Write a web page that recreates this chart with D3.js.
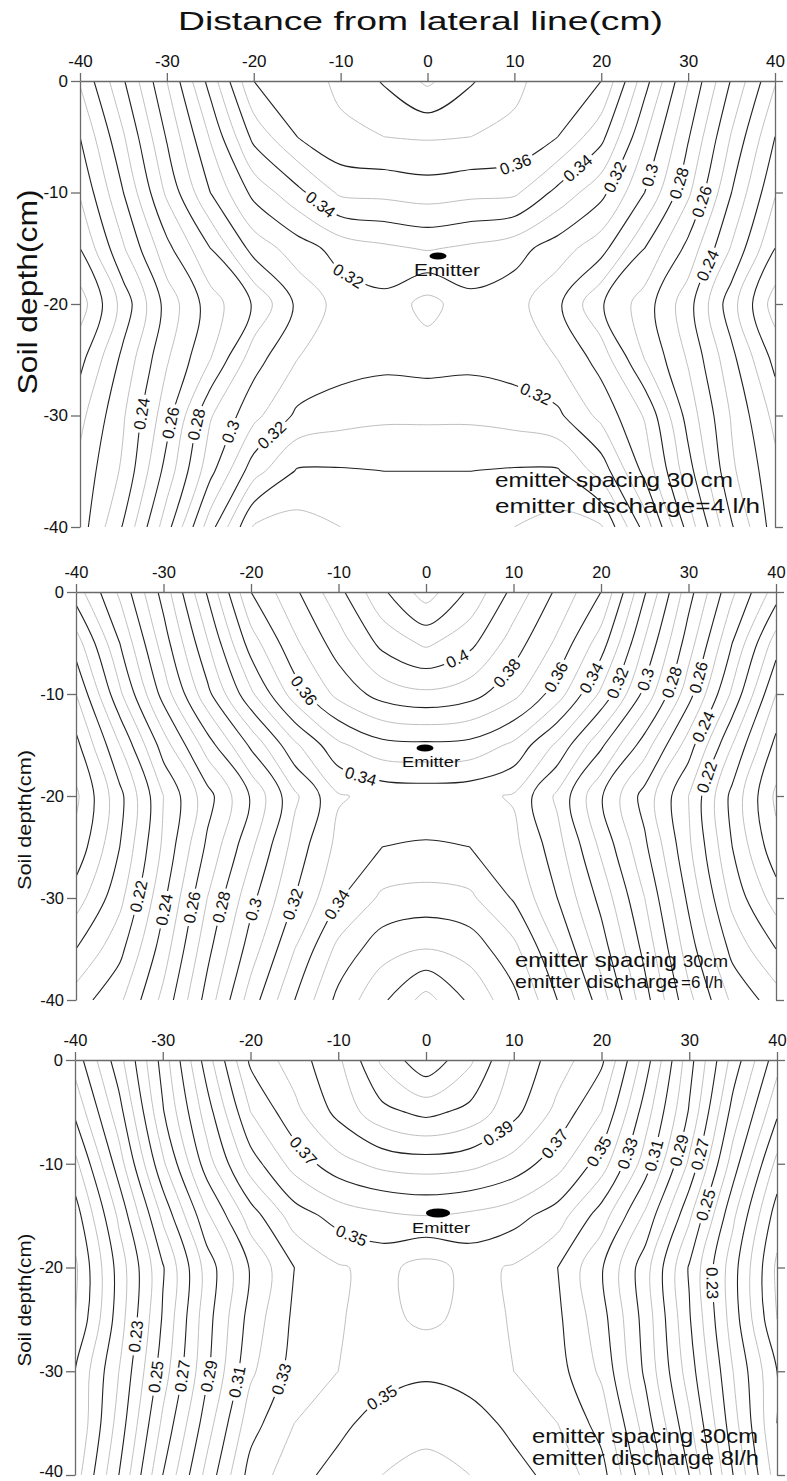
<!DOCTYPE html>
<html>
<head>
<meta charset="utf-8">
<script src="https://cdn.jsdelivr.net/npm/d3@7"></script>
<style>
body { margin: 0; background: #fff; }
svg text { font-family: "Liberation Sans", Arial, sans-serif; fill: #111; }
</style>
</head>
<body>
<svg id="chart" width="787" height="1481"></svg>
<script>
// grid nodes (cm)
const xs = [-40, -35, -30, -25, -20, -15, -10, -5, 0, 5, 10, 15, 20, 25, 30, 35, 40];
const depths = [0, -5, -10, -15, -20, -25, -30, -35, -40];
const xTicks = [-40, -30, -20, -10, 0, 10, 20, 30, 40];
const yTicks = [0, -10, -20, -30, -40];
const levels = [0.15, 0.16, 0.17, 0.18, 0.19, 0.20, 0.21, 0.22, 0.23, 0.24, 0.25, 0.26, 0.27, 0.28, 0.29,
  0.30, 0.31, 0.32, 0.33, 0.34, 0.35, 0.36, 0.37, 0.38, 0.39, 0.40, 0.41, 0.42, 0.43, 0.44, 0.45];

// soil moisture, emitter discharge 4 l/h (rows = depths, cols = xs)
const moisture4 = [
  [.231, .259, .290, .324, .360, .365, .372, .381, .392, .381, .372, .365, .360, .324, .290, .259, .231],
  [.220, .249, .281, .311, .343, .360, .368, .370, .371, .370, .368, .360, .343, .311, .281, .249, .220],
  [.211, .240, .272, .300, .323, .337, .352, .353, .355, .353, .352, .337, .323, .300, .272, .240, .211],
  [.200, .229, .257, .280, .304, .315, .324, .328, .331, .328, .324, .315, .304, .280, .257, .229, .200],
  [.185, .214, .244, .265, .281, .302, .314, .317, .306, .317, .314, .302, .281, .265, .244, .214, .185],
  [.197, .223, .249, .270, .296, .310, .315, .317, .316, .317, .315, .310, .296, .270, .249, .223, .197],
  [.207, .229, .256, .289, .307, .322, .326, .328, .328, .328, .326, .322, .307, .289, .256, .229, .207],
  [.213, .232, .264, .297, .326, .341, .341, .340, .340, .340, .341, .341, .326, .297, .264, .232, .213],
  [.215, .241, .276, .316, .351, .354, .350, .346, .345, .346, .350, .354, .351, .316, .276, .241, .215]
];
// emitter discharge 6 l/h
const moisture6 = [
  [.225, .252, .284, .321, .360, .378, .397, .418, .435, .418, .397, .378, .360, .321, .284, .252, .225],
  [.205, .240, .275, .309, .345, .368, .385, .403, .412, .403, .385, .368, .345, .309, .275, .240, .205],
  [.190, .228, .264, .297, .328, .355, .373, .384, .388, .384, .373, .355, .328, .297, .264, .228, .190],
  [.177, .210, .245, .275, .302, .328, .348, .357, .358, .357, .348, .328, .302, .275, .245, .210, .177],
  [.168, .197, .230, .256, .281, .308, .329, .333, .334, .333, .329, .308, .281, .256, .230, .197, .168],
  [.173, .200, .232, .262, .288, .314, .333, .340, .341, .340, .333, .314, .288, .262, .232, .200, .173],
  [.185, .207, .238, .270, .297, .320, .339, .352, .354, .352, .339, .320, .297, .270, .238, .207, .185],
  [.200, .217, .245, .277, .305, .330, .353, .366, .370, .366, .353, .330, .305, .277, .245, .217, .200],
  [.215, .228, .253, .284, .315, .340, .363, .378, .394, .378, .363, .340, .315, .284, .253, .228, .215]
];
// emitter discharge 8 l/h
const moisture8 = [
  [.224, .256, .294, .335, .372, .385, .398, .422, .438, .422, .398, .385, .372, .335, .294, .256, .224],
  [.212, .246, .289, .325, .360, .377, .393, .407, .413, .407, .393, .377, .360, .325, .289, .246, .212],
  [.197, .235, .278, .315, .345, .364, .376, .383, .385, .383, .376, .364, .345, .315, .278, .235, .197],
  [.185, .222, .262, .298, .325, .345, .354, .358, .360, .358, .354, .345, .325, .298, .262, .222, .185],
  [.178, .214, .249, .284, .311, .330, .339, .343, .336, .343, .339, .330, .311, .284, .249, .214, .178],
  [.180, .215, .251, .286, .314, .332, .3395, .3425, .338, .3425, .3395, .332, .314, .286, .251, .215, .180],
  [.190, .220, .255, .288, .318, .334, .340, .345, .348, .345, .340, .334, .318, .288, .255, .220, .190],
  [.190, .224, .262, .295, .326, .340, .347, .355, .358, .355, .347, .340, .326, .295, .262, .224, .190],
  [.195, .230, .270, .303, .334, .346, .354, .360, .362, .360, .354, .346, .334, .303, .270, .230, .195]
];

// contour labels: [level, x, depth]
const labels4 = [[0.36, 10.3, -7.7], [0.34, 17.9, -8.3], [0.32, 22.2, -8.9], [0.30, 26.2, -8.6], [0.28, 29.2, -9.2],
  [0.26, 31.7, -10.8], [0.24, 32.1, -16.5], [0.34, -12.3, -11.1], [0.32, -9.1, -17.4], [0.24, -32.6, -29.9],
  [0.26, -29.4, -30.7], [0.28, -26.1, -30.9], [0.30, -22.8, -31.4], [0.32, -17.8, -31.8], [0.32, 12.2, -28.6]];
const labels6 = [[0.40, 4.2, -7.5], [0.38, 9.8, -8.3], [0.36, 14.9, -8.4], [0.34, 19, -8.5], [0.32, 21.8, -8.9],
  [0.30, 25.3, -8.6], [0.28, 28.1, -8.9], [0.26, 31.4, -8.4], [0.24, 31.7, -13.2], [0.22, 32.3, -18.2],
  [0.36, -13.6, -9.4], [0.34, -7.5, -18.1], [0.22, -32.7, -29.9], [0.24, -29.6, -31.2], [0.26, -26.4, -31],
  [0.28, -23.1, -31], [0.30, -19.4, -31.2], [0.32, -15.1, -30.7], [0.34, -9.7, -30.9]];
const labels8 = [[0.39, 8.7, -7.6], [0.37, 15.4, -8.6], [0.35, 19.8, -8.9], [0.33, 23.4, -9.1], [0.31, 26.2, -9.3],
  [0.29, 29.2, -8.8], [0.27, 31.6, -9.2], [0.25, 32.2, -14.1], [0.23, 32.8, -21.5], [0.37, -14.5, -9.2],
  [0.35, -8.4, -16.7], [0.23, -33, -26.6], [0.25, -30.7, -30.5], [0.27, -27.8, -30.5], [0.29, -24.7, -30.5],
  [0.31, -21.5, -31], [0.33, -16.6, -30.7], [0.35, -5.5, -31.9]];

const panels = [
  { grid: moisture4, labels: labels4, majorOdd: false, box: [80, 775, 81, 527], tickFs: 17,
    ylab: { x: 37, y: 292, fs: 28, len: 205 }, emitter: { cx: 438, cy: 256, rx: 8.5, ry: 3.6, tx: 414, ty: 276, tl: 66, fs: 16 },
    notes: [{ t: "emitter spacing 30 cm", x: 495, y: 487, fs: 21, len: 238 }, { t: "emitter discharge=4 l/h", x: 495, y: 513, fs: 21, len: 265 }] },
  { grid: moisture6, labels: labels6, majorOdd: false, box: [76, 776, 592, 1000], tickFs: 16.5,
    ylab: { x: 31, y: 820, fs: 19, len: 140 }, emitter: { cx: 425, cy: 748, rx: 8.5, ry: 3.6, tx: 402, ty: 767, tl: 58, fs: 15 },
    notes: [{ t: "emitter spacing", x: 515, y: 967, fs: 21, len: 162 }, { t: "30cm", x: 683, y: 967, fs: 16, len: 45 },
      { t: "emitter discharge", x: 515, y: 988, fs: 18.5, len: 164 }, { t: "=6 l/h", x: 681, y: 988, fs: 17, len: 42 }] },
  { grid: moisture8, labels: labels8, majorOdd: true, box: [75, 777, 1060, 1475], tickFs: 16.5,
    ylab: { x: 31, y: 1300, fs: 19, len: 133 }, emitter: { cx: 438, cy: 1213, rx: 12, ry: 4.5, tx: 412, ty: 1233, tl: 58, fs: 15 },
    notes: [{ t: "emitter spacing 30cm", x: 532, y: 1443, fs: 20, len: 226 }, { t: "emitter discharge 8l/h", x: 532, y: 1465, fs: 20, len: 227 }] }
];

const svg = d3.select("#chart");

svg.append("text").attr("x", 178).attr("y", 30).attr("font-size", 25)
  .attr("textLength", 485).attr("lengthAdjust", "spacingAndGlyphs")
  .text("Distance from lateral line(cm)");

function isolines(grid, level) {
  const nx = xs.length, ny = depths.length;
  const dx = xs[1] - xs[0], dy = depths[1] - depths[0];
  const [c] = d3.contours().size([nx, ny]).smooth(true).thresholds([level + 1e-7])(grid.flat());
  const eps = 1e-6;
  const inside = p => p[0] >= xs[0] - eps && p[0] <= xs[nx - 1] + eps && p[1] <= depths[0] + eps && p[1] >= depths[ny - 1] - eps;
  const out = [];
  c.coordinates.forEach(poly => poly.forEach(ring => {
    const pts = ring.slice(0, -1).map(([gx, gy]) => [xs[0] + (gx - 0.5) * dx, depths[0] + (gy - 0.5) * dy]);
    const start = pts.findIndex(p => !inside(p));
    if (start < 0) { out.push({ pts: pts, closed: true }); return; }
    let run = [];
    for (let k = 1; k <= pts.length; k++) {
      const p = pts[(start + k) % pts.length];
      if (inside(p)) run.push(p);
      else { if (run.length > 1) out.push({ pts: run, closed: false }); run = []; }
    }
  }));
  return out;
}

panels.forEach((pn, i) => {
  const [x0, x1, y0, y1] = pn.box;
  const x = d3.scaleLinear().domain([-40, 40]).range([x0, x1]);
  const y = d3.scaleLinear().domain([0, -40]).range([y0, y1]);
  const g = svg.append("g");

  g.append("clipPath").attr("id", "clip" + i).append("rect")
    .attr("x", x0).attr("y", y0).attr("width", x1 - x0).attr("height", y1 - y0);

  const openLine = d3.line().x(p => x(p[0])).y(p => y(p[1])).curve(d3.curveCatmullRom.alpha(0.5));
  const closedLine = d3.line().x(p => x(p[0])).y(p => y(p[1])).curve(d3.curveCatmullRomClosed.alpha(0.5));

  const plot = g.append("g").attr("clip-path", `url(#clip${i})`);
  const levelGroups = {};
  levels.forEach(lv => {
    const lines = isolines(pn.grid, lv);
    if (!lines.length) return;
    const major = (Math.round(lv * 100) % 2 === 1) === pn.majorOdd;
    const lg = plot.append("g")
      .attr("fill", "none")
      .attr("stroke", major ? "#222" : "#b8b8b8")
      .attr("stroke-width", major ? 1.1 : 0.9);
    lg.selectAll("path").data(lines).join("path")
      .attr("d", l => l.closed ? closedLine(l.pts) : openLine(l.pts));
    levelGroups[lv.toFixed(2)] = lg;
  });

  // contour labels, with a gap cut into their own line
  const labelG = g.append("g");
  const cuts = {};
  pn.labels.forEach(([lv, lx, ld]) => {
    const key = lv.toFixed(2);
    const lg = levelGroups[key];
    if (!lg) return;
    const tx = x(lx), ty = y(ld);
    let best = null;
    lg.selectAll("path").each(function () {
      const L = this.getTotalLength();
      for (let l = 0; l <= L; l += 1) {
        const p = this.getPointAtLength(l);
        const dd = (p.x - tx) ** 2 + (p.y - ty) ** 2;
        if (!best || dd < best.dd) best = { dd: dd, node: this, l: l, L: L, p: p };
      }
    });
    if (!best) return;
    const a = best.node.getPointAtLength(Math.max(0, best.l - 5));
    const b = best.node.getPointAtLength(Math.min(best.L, best.l + 5));
    let ang = Math.atan2(b.y - a.y, b.x - a.x) * 180 / Math.PI;
    if (ang > 90) ang -= 180;
    if (ang < -90) ang += 180;
    const txt = labelG.append("text")
      .attr("transform", `translate(${best.p.x},${best.p.y}) rotate(${ang})`)
      .attr("text-anchor", "middle").attr("dy", "0.36em")
      .attr("font-size", 16.5)
      .text(String(+lv.toFixed(2)));
    const w = txt.node().getComputedTextLength();
    (cuts[key] = cuts[key] || []).push({ x: best.p.x, y: best.p.y, ang: ang, w: w + 6 });
  });
  Object.keys(cuts).forEach((key, k) => {
    const id = `m${i}_${k}`;
    const m = g.append("mask").attr("id", id).attr("maskUnits", "userSpaceOnUse")
      .attr("x", 0).attr("y", 0).attr("width", 787).attr("height", 1481);
    m.append("rect").attr("x", 0).attr("y", 0).attr("width", 787).attr("height", 1481).attr("fill", "#fff");
    cuts[key].forEach(c => {
      m.append("rect").attr("x", -c.w / 2).attr("y", -8).attr("width", c.w).attr("height", 16)
        .attr("transform", `translate(${c.x},${c.y}) rotate(${c.ang})`).attr("fill", "#000");
    });
    levelGroups[key].attr("mask", `url(#${id})`);
  });

  // axes
  const styleAxis = sel => {
    sel.selectAll("path.domain, line").attr("stroke", "#6a6a6a").attr("stroke-width", 1.3);
    sel.selectAll("text").attr("font-family", "'Liberation Sans Narrow', 'Liberation Sans', Arial, sans-serif")
      .attr("font-size", pn.tickFs).attr("fill", "#1a1a1a");
  };
  g.append("g").attr("transform", `translate(0,${y0})`)
    .call(d3.axisTop(x).tickValues(xTicks).tickSize(8).tickSizeOuter(0).tickPadding(6).tickFormat(d => String(d)))
    .call(styleAxis);
  const left = g.append("g").attr("transform", `translate(${x0},0)`)
    .call(d3.axisLeft(y).tickValues(yTicks).tickSize(9).tickSizeOuter(0).tickPadding(3).tickFormat(d => String(d)))
    .call(styleAxis);
  if (i === 2) left.selectAll(".tick text").filter(d => d === -40).attr("dy", "0.1em");
  g.append("g").attr("transform", `translate(${x1},0)`)
    .call(d3.axisRight(y).tickValues(yTicks).tickSize(8).tickSizeOuter(0).tickFormat(""))
    .call(styleAxis);

  g.append("text")
    .attr("transform", `translate(${pn.ylab.x},${pn.ylab.y}) rotate(-90)`)
    .attr("text-anchor", "middle").attr("font-size", pn.ylab.fs)
    .attr("textLength", pn.ylab.len).attr("lengthAdjust", "spacingAndGlyphs")
    .text("Soil depth(cm)");

  const e = pn.emitter;
  g.append("ellipse").attr("cx", e.cx).attr("cy", e.cy).attr("rx", e.rx).attr("ry", e.ry).attr("fill", "#000");
  g.append("text").attr("x", e.tx).attr("y", e.ty).attr("font-size", e.fs)
    .attr("textLength", e.tl).attr("lengthAdjust", "spacingAndGlyphs").text("Emitter");

  pn.notes.forEach(n => {
    g.append("text").attr("x", n.x).attr("y", n.y).attr("font-size", n.fs)
      .attr("textLength", n.len).attr("lengthAdjust", "spacingAndGlyphs").text(n.t);
  });
});
</script>
</body>
</html>
